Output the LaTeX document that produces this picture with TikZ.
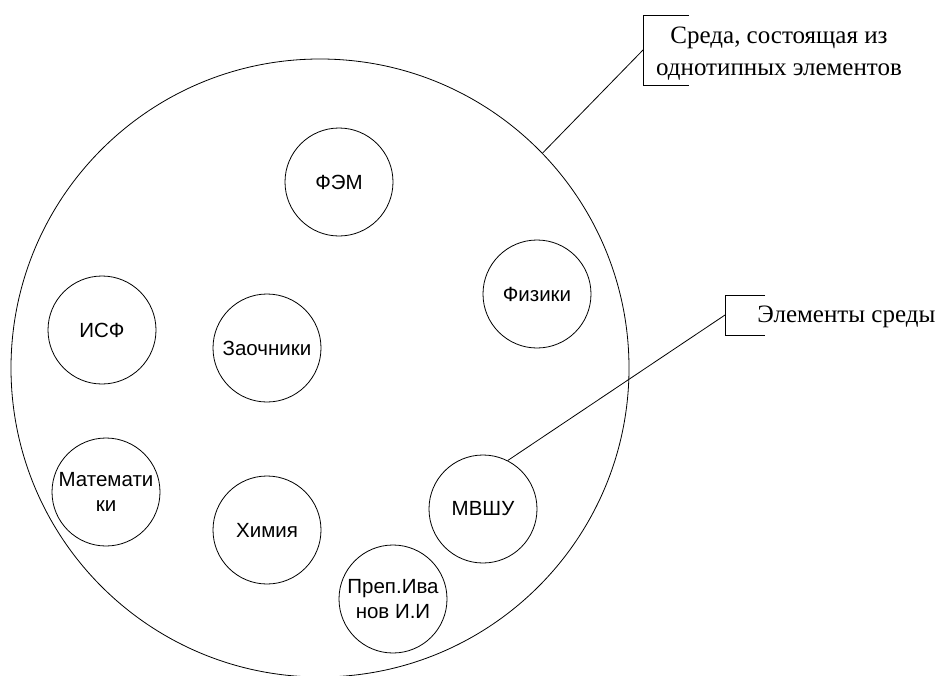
\documentclass[tikz,border=0pt]{standalone}
\usepackage{fontspec}
\setmainfont{Liberation Serif}
\setsansfont{Liberation Sans}
\tikzset{
  unit/.style={draw, circle, minimum size=108pt, inner sep=0pt, align=center,
    font=\sffamily\fontsize{20.5}{25}\selectfont},
  note/.style={align=center, inner sep=0pt, font=\fontsize{25}{32}\selectfont}
}

\begin{document}
\begin{tikzpicture}[x=1pt, y=-1pt, line width=0.8pt]
  \useasboundingbox (0,0) rectangle (939,675);
  \clip (0,0) rectangle (939,675);
  % the environment
  \node[draw, circle, minimum size=618pt] (env) at (320,368) {};
  % its elements
  \node[unit] (fem) at (339,182) {ФЭМ};
  \node[unit] (phys) at (537,294) {Физики};
  \node[unit] (isf) at (102,330) {ИСФ};
  \node[unit] (zaoch) at (267,348) {Заочники};
  \node[unit] (math) at (106,492) {Математи\\ки};
  \node[unit] (chem) at (267,530) {Химия};
  \node[unit] (mvshu) at (483,509) {МВШУ};
  \node[unit] (ivanov) at (393,599) {Преп.Ива\\нов И.И};
  % callouts
  \coordinate (br1) at (643,50);
  \coordinate (br2) at (725,315);
  \draw (689,15) -| (643,85) -- (689,85);
  \draw (765,295) -| (725,335) -- (765,335);
  \node[note] (envlabel) at (779,54) {Среда, состоящая из\\однотипных элементов};
  \node[note, anchor=base west] (unitlabel) at (757,322) {Элементы среды};
  \draw (env.44) -- (br1);
  \draw (mvshu.63) -- (br2);
\end{tikzpicture}
\end{document}
